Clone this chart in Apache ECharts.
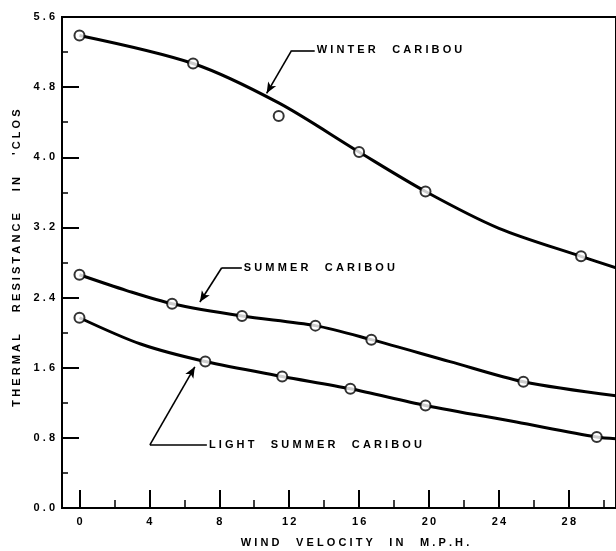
<!DOCTYPE html>
<html><head><meta charset="utf-8">
<script src="https://cdn.jsdelivr.net/npm/echarts@6/dist/echarts.min.js"></script>
<style>html,body{margin:0;padding:0;background:#fff}#c{width:616px;height:551px}</style>
</head><body><div id="c"></div>
<script>
// tick values
const xTicks = [0, 4, 8, 12, 16, 20, 24, 28];
const xMinorTicks = [2, 6, 10, 14, 18, 22, 26, 30];
// measured points (circles)
const winterX = [0, 6.5, 11.4, 16.0, 19.8, 28.7];
const winterY = [5.39, 5.07, 4.47, 4.06, 3.61, 2.87];
const summerX = [0, 5.3, 9.3, 13.5, 16.7, 25.4];
const summerY = [2.66, 2.33, 2.19, 2.08, 1.92, 1.44];
const lightX = [0, 7.2, 11.6, 15.5, 19.8, 29.6];
const lightY = [2.17, 1.67, 1.50, 1.36, 1.17, 0.81];
// drawn curves
const winterCurveX = [0, 6.5, 11.4, 16.0, 19.8, 24.0, 28.7, 30.7];
const winterCurveY = [5.39, 5.07, 4.62, 4.06, 3.61, 3.19, 2.87, 2.74];
const summerCurveX = [0, 2.7, 5.3, 9.3, 13.5, 16.7, 21.2, 25.4, 30.7];
const summerCurveY = [2.66, 2.48, 2.33, 2.19, 2.08, 1.92, 1.67, 1.44, 1.28];
const lightCurveX = [0, 3.5, 7.2, 11.6, 15.5, 19.8, 25.0, 29.6, 30.7];
const lightCurveY = [2.17, 1.87, 1.67, 1.50, 1.36, 1.17, 0.98, 0.81, 0.79];
// labels
const labelWinter = 'WINTER CARIBOU';
const labelSummer = 'SUMMER CARIBOU';
const labelLight = 'LIGHT SUMMER CARIBOU';
const yTitle = "THERMAL RESISTANCE IN 'CLOS";
const xTitle = 'WIND VELOCITY IN M.P.H.';

function spaced(s, wordGap) {
  return s.split(' ').map(w => w.split('').join('\u2009\u200A')).join(wordGap || '\u2003\u2002');
}
const zip = (a, b) => a.map((v, i) => [v, b[i]]);
const FONT = 'Liberation Sans';

function leader(hx1, hx2, hy, tx, ty, text) {
  return [
    [{ coord: [hx1, hy], symbol: 'none',
       label: { show: true, position: 'end', distance: 2, formatter: spaced(text),
                color: '#000', fontFamily: FONT, fontWeight: 'bold', fontSize: 11 } },
     { coord: [hx2, hy], symbol: 'none' }],
    [{ coord: [hx1, hy], symbol: 'none', label: { show: false } },
     { coord: [tx, ty], symbol: 'arrow', symbolSize: [7, 11] }]
  ];
}

const chart = echarts.init(document.getElementById('c'));
const lineBase = { type: 'line', showSymbol: false, smooth: 0.3,
  lineStyle: { color: '#000', width: 3 }, silent: true, z: 2 };
const dotBase = { type: 'scatter', symbol: 'circle', symbolSize: 10,
  itemStyle: { color: '#fff', borderColor: '#000', borderWidth: 2 }, silent: true, z: 3 };

chart.setOption({
  animation: false,
  backgroundColor: '#fff',
  grid: { left: 62, right: 0, top: 17, bottom: 43, show: true, borderColor: '#000', borderWidth: 2 },
  xAxis: [{
    type: 'value', min: -1, max: 30.7, splitLine: { show: false },
    axisLine: { onZero: false, lineStyle: { color: '#000', width: 2 } },
    axisTick: { inside: true, length: 18, customValues: xTicks, lineStyle: { color: '#000', width: 2 } },
    axisLabel: { customValues: xTicks, color: '#000', fontFamily: FONT, fontWeight: 'bold', fontSize: 11, margin: 8,
      formatter: v => String(v).split('').join('\u2009') }
  }, {
    type: 'value', min: -1, max: 30.7, position: 'bottom', splitLine: { show: false },
    axisLine: { show: false, onZero: false },
    axisTick: { inside: true, length: 8, customValues: xMinorTicks, lineStyle: { color: '#000', width: 1.5 } },
    axisLabel: { show: false }
  }],
  yAxis: {
    type: 'value', min: 0, max: 5.6, interval: 0.8, splitLine: { show: false },
    axisLine: { onZero: false, lineStyle: { color: '#000', width: 2 } },
    axisTick: { inside: true, length: 17, lineStyle: { color: '#000', width: 2 } },
    minorTick: { show: true, splitNumber: 2, length: 6, lineStyle: { color: '#000', width: 1.5 } },
    axisLabel: { color: '#000', fontFamily: FONT, fontWeight: 'bold', fontSize: 11, margin: 7,
      formatter: v => v.toFixed(1).split('').join('\u2009\u200A') }
  },
  series: [
    Object.assign({}, lineBase, { name: 'Winter', data: zip(winterCurveX, winterCurveY),
      markLine: { silent: true, symbol: ['none', 'none'], lineStyle: { color: '#000', width: 1.6, type: 'solid' },
        label: { show: false }, data: leader(12.14, 13.46, 5.22, 10.71, 4.73, labelWinter) } }),
    Object.assign({}, lineBase, { name: 'Summer', data: zip(summerCurveX, summerCurveY),
      markLine: { silent: true, symbol: ['none', 'none'], lineStyle: { color: '#000', width: 1.6, type: 'solid' },
        label: { show: false }, data: leader(8.14, 9.29, 2.74, 6.89, 2.35, labelSummer) } }),
    Object.assign({}, lineBase, { name: 'Light', data: zip(lightCurveX, lightCurveY),
      markLine: { silent: true, symbol: ['none', 'none'], lineStyle: { color: '#000', width: 1.6, type: 'solid' },
        label: { show: false }, data: leader(4.03, 7.29, 0.72, 6.6, 1.61, labelLight) } }),
    Object.assign({}, dotBase, { name: 'Winter pts', data: zip(winterX, winterY) }),
    Object.assign({}, dotBase, { name: 'Summer pts', data: zip(summerX, summerY) }),
    Object.assign({}, dotBase, { name: 'Light pts', data: zip(lightX, lightY) })
  ],
  graphic: [
    { type: 'text', x: 17, y: 258, rotation: Math.PI / 2,
      style: { text: spaced(yTitle, '\u2003\u2003'), fill: '#000', font: 'bold 11px "' + FONT + '"', align: 'center', verticalAlign: 'middle' } },
    { type: 'text', x: 355, y: 543,
      style: { text: spaced(xTitle), fill: '#000', font: 'bold 11px "' + FONT + '"', align: 'center', verticalAlign: 'middle' } }
  ]
});
</script>
</body></html>
